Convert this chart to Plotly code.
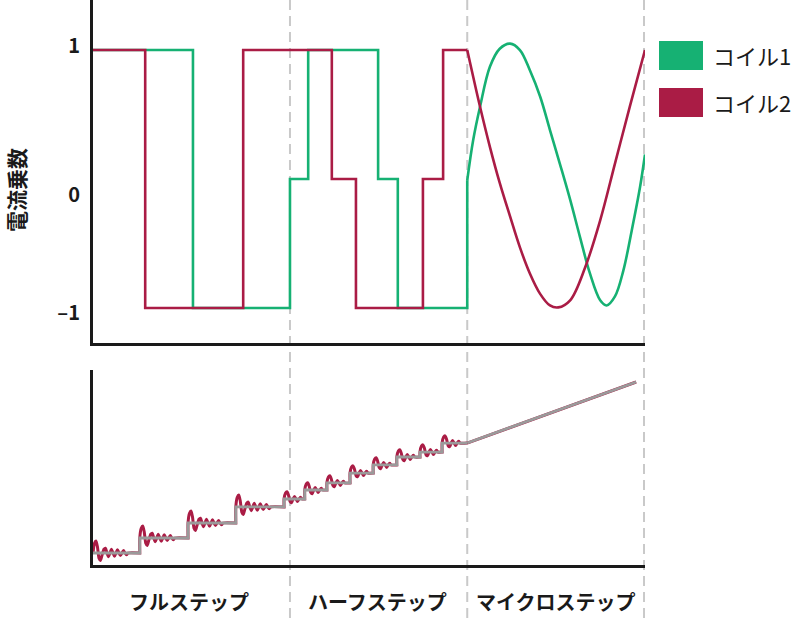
import plotly.graph_objects as go

# ---------------- data ----------------
# time axis in "full-step" units
coil1_step_t = [0, 2.03, 4.00, 4.37, 5.79, 6.19, 7.60]
coil1_step_v = [1, -1, 0, 1, 0, -1, -0.01]
coil2_step_t = [0, 1.06, 3.05, 4.85, 5.34, 6.70, 7.11, 7.60]
coil2_step_v = [1, -1, 1, 0, -1, 0, 1, 1]

coil1_micro_t = [7.60, 7.72, 7.86, 8.06, 8.26, 8.47, 8.67, 8.87, 9.08, 9.28, 9.48,
                 9.69, 9.89, 10.09, 10.30, 10.43, 10.60, 10.77, 10.94, 11.11, 11.21]
coil1_micro_v = [-0.01, 0.30, 0.56, 0.87, 1.01, 1.05, 1.00, 0.845, 0.64, 0.38, 0.12,
                 -0.16, -0.45, -0.73, -0.94, -0.98, -0.91, -0.71, -0.40, -0.06, 0.19]
coil2_micro_t = [7.60, 7.86, 8.06, 8.26, 8.47, 8.67, 8.87, 9.08, 9.28, 9.45,
                 9.69, 9.99, 10.30, 10.60, 10.90, 11.21]
coil2_micro_v = [1.00, 0.56, 0.25, -0.03, -0.29, -0.53, -0.73, -0.89, -0.98, -0.995,
                 -0.94, -0.69, -0.32, 0.12, 0.56, 1.00]

# rotor position (lower panel)
pos_step_t = [0, 0.95, 1.93, 2.90, 3.88, 4.30, 4.75, 5.22, 5.69, 6.17, 6.64, 7.09, 7.60]
pos_step_v = [0.8, 1.8, 2.8, 3.87, 4.4, 5.0, 5.47, 6.13, 6.67, 7.2, 7.53, 8.13, 8.13]
pos_micro_t = [7.60, 11.03]
pos_micro_v = [8.13, 12.2]
full_steps = 4  # first four steps are full steps

# ringing after a step (offset in time, offset in position)
ring_full_dt = [0, 0.030, 0.061, 0.091, 0.122, 0.152, 0.183, 0.223, 0.254, 0.284, 0.315,
                0.345, 0.376, 0.406, 0.437, 0.467, 0.497, 0.528, 0.558, 0.589, 0.619,
                0.650, 0.680, 0.711]
ring_full_dv = [0, 0.65, 0.80, 0.40, -0.35, -0.50, -0.15, 0.25, 0.32, 0, -0.25,
                0, 0.25, 0, -0.22, 0, 0.22, 0, -0.17, 0, 0.17, 0, -0.12, 0]
ring_half_dt = [0, 0.030, 0.061, 0.091, 0.122, 0.152, 0.183, 0.213, 0.244, 0.274,
                0.305, 0.335, 0.365]
ring_half_dv = [0, 0.40, 0.48, 0.25, -0.17, -0.25, 0, 0.17, 0, -0.17, 0, 0.12, 0]

y_ticks = [1.03, -0.12, -1.04]
y_tick_text = ["1", "0", "–1"]
section_labels = ["フルステップ", "ハーフステップ", "マイクロステップ"]
section_centers = [1.95, 5.78, 9.40]
section_bounds = [4.0, 7.60, 11.19]
legend_names = ["コイル1", "コイル2"]

GREEN = "#16b173"
RED = "#aa1c45"
GRAY = "#9a9a9a"
BLACK = "#1a1a1a"
FONT = "Noto Sans CJK JP"

# build rotor trace with ringing
rt, rv = [], []
n = len(pos_step_t) - 1
for i in range(n):
    t0, lvl = pos_step_t[i], pos_step_v[i]
    t1 = pos_step_t[i + 1]
    if i > 0:
        rt.append(t0); rv.append(pos_step_v[i - 1])
    dts, dvs = (ring_full_dt, ring_full_dv) if i < full_steps else (ring_half_dt, ring_half_dv)
    for dt, dv in zip(dts, dvs):
        rt.append(t0 + dt); rv.append(lvl + dv)
    rt.append(t1); rv.append(lvl)
rt += pos_micro_t
rv += pos_micro_v

fig = go.Figure()
fig.add_trace(go.Scatter(x=coil1_step_t, y=coil1_step_v, mode="lines", line=dict(color=GREEN, width=2.6, shape="hv"),
                         xaxis="x", yaxis="y", showlegend=False))
fig.add_trace(go.Scatter(x=coil1_micro_t, y=coil1_micro_v, mode="lines", line=dict(color=GREEN, width=2.6, shape="spline"),
                         xaxis="x", yaxis="y", showlegend=False))
fig.add_trace(go.Scatter(x=coil2_step_t, y=coil2_step_v, mode="lines", line=dict(color=RED, width=2.6, shape="hv"),
                         xaxis="x", yaxis="y", showlegend=False))
fig.add_trace(go.Scatter(x=coil2_micro_t, y=coil2_micro_v, mode="lines", line=dict(color=RED, width=2.6, shape="spline"),
                         xaxis="x", yaxis="y", showlegend=False))

fig.add_trace(go.Scatter(x=rt, y=rv, mode="lines", line=dict(color=RED, width=3, shape="spline", smoothing=0.6),
                         xaxis="x2", yaxis="y2", showlegend=False))
fig.add_trace(go.Scatter(x=pos_step_t, y=pos_step_v, mode="lines", line=dict(color=GRAY, width=2.8, shape="hv"),
                         xaxis="x2", yaxis="y2", showlegend=False))
fig.add_trace(go.Scatter(x=pos_micro_t, y=pos_micro_v, mode="lines", line=dict(color=GRAY, width=2.8),
                         xaxis="x2", yaxis="y2", showlegend=False))

W, H = 800, 618
xdom = [93 / W, 645 / W]
xrange_ = [0, 11.21]

# dashed separators
for b in section_bounds:
    fig.add_shape(type="line", xref="x", yref="paper", x0=b, x1=b, y0=0, y1=1,
                  line=dict(color="#c9c9c9", width=2, dash="10px,6px"), layer="below")

# legend (manual squares)
for k, (name, col) in enumerate(zip(legend_names, [GREEN, RED])):
    top = 41 + k * 47
    fig.add_shape(type="rect", xref="paper", yref="paper",
                  x0=659 / W, x1=703 / W, y0=1 - (top + 29) / H, y1=1 - top / H,
                  fillcolor=col, line=dict(width=0))
    fig.add_annotation(xref="paper", yref="paper", x=711 / W, y=1 - (top + 14) / H,
                       text=name, showarrow=False, xanchor="left", yanchor="middle",
                       font=dict(family=FONT, size=22, color=BLACK))

# section labels
for lab, c in zip(section_labels, section_centers):
    fig.add_annotation(xref="x", yref="paper", x=c, y=1 - 601 / H, text=lab, showarrow=False,
                       xanchor="center", yanchor="middle",
                       font=dict(family=FONT, size=20, color=BLACK, weight="bold"))

# y title
fig.add_annotation(xref="paper", yref="paper", x=0, y=1 - 190 / H, text="電流乗数",
                   textangle=-90, showarrow=False, xanchor="left", yanchor="middle",
                   borderpad=0, font=dict(family=FONT, size=21, color=BLACK, weight="bold"))

axis_common = dict(showgrid=False, zeroline=False, showline=True, linecolor=BLACK, linewidth=3)

fig.update_layout(
    width=W, height=H,
    margin=dict(l=0, r=0, t=0, b=0),
    paper_bgcolor="white", plot_bgcolor="white",
    xaxis=dict(domain=xdom, range=xrange_, showticklabels=False, ticks="", anchor="y", **axis_common),
    yaxis=dict(domain=[1 - 343 / H, 1], range=[-1.271, 1.388], anchor="x",
               tickvals=y_ticks, ticktext=y_tick_text, ticks="", ticklabelstandoff=6,
               tickfont=dict(family=FONT, size=20, color=BLACK, weight="bold"), **axis_common),
    xaxis2=dict(domain=xdom, range=xrange_, showticklabels=False, ticks="", anchor="y2", **axis_common),
    yaxis2=dict(domain=[1 - 565 / H, 1 - 370 / H], range=[0, 13], anchor="x2",
                showticklabels=False, ticks="", **axis_common),
)

fig.write_html("out.html", config={"displayModeBar": False},
               post_script="document.body.style.margin='0';document.body.style.overflow='hidden';")
